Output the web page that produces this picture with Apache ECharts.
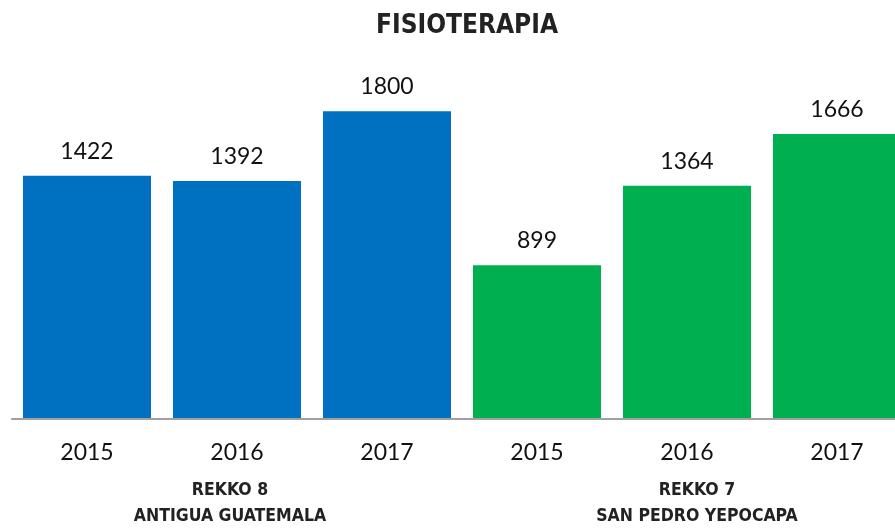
<!DOCTYPE html>
<html>
<head>
<meta charset="utf-8">
<title>Fisioterapia</title>
<script src="https://cdn.jsdelivr.net/npm/echarts@6/dist/echarts.min.js"></script>
<style>
  html, body { margin: 0; padding: 0; background: #fff; overflow: hidden; }
  /* el grafico original esta recortado a la derecha */
  #chart { width: 912px; height: 529px; }
</style>
</head>
<body>
<div id="chart"></div>
<script>
// datos
const years = ['2015', '2016', '2017', '2015', '2016', '2017']
const groups = ['REKKO 8\nANTIGUA GUATEMALA', 'REKKO 7\nSAN PEDRO YEPOCAPA']
const values = [1422, 1392, 1800, 899, 1364, 1666]
const barColors = ['#0070C0', '#0070C0', '#0070C0', '#00B050', '#00B050', '#00B050']

const titleFont = 'DejaVu Sans Condensed'

const chart = echarts.init(document.getElementById('chart'))

chart.setOption({
  animation: false,
  title: {
    text: 'FISIOTERAPIA',
    left: 462,
    textAlign: 'center',
    top: 8,
    textStyle: {
      fontFamily: titleFont,
      fontWeight: 'bold',
      fontSize: 26,
      color: '#222'
    }
  },
  grid: [
    { left: 12, right: 0, top: 77, bottom: 110 }, // barras
    { left: 12, right: 0, top: 77, bottom: 110 } // etiquetas de grupo
  ],
  xAxis: [
    {
      type: 'category',
      gridIndex: 0,
      data: years,
      axisTick: { show: false },
      axisLine: { lineStyle: { color: '#A0A0A0', width: 2 } },
      axisLabel: {
        margin: 22,
        fontFamily: 'Lato',
        fontSize: 23,
        color: '#111'
      },
      z: 5
    },
    {
      type: 'category',
      gridIndex: 1,
      data: groups,
      axisTick: { show: false },
      axisLine: { show: false },
      axisLabel: {
        margin: 65,
        fontFamily: titleFont,
        fontWeight: 'bold',
        fontSize: 17.5,
        lineHeight: 26,
        color: '#222',
        // pequeno desplazamiento horizontal de cada grupo
        formatter(value, idx) {
          const tag = idx === 0 ? 'a' : 'b'
          return value.split('\n').map(s => '{' + tag + '|' + s + '}').join('\n')
        },
        rich: {
          a: { padding: [0, 14, 0, 0] },
          b: { padding: [0, 0, 0, 20] }
        }
      }
    }
  ],
  yAxis: [
    { type: 'value', gridIndex: 0, min: 0, max: 2000, show: false },
    { type: 'value', gridIndex: 1, min: 0, max: 2000, show: false }
  ],
  series: [
    {
      type: 'bar',
      xAxisIndex: 0,
      yAxisIndex: 0,
      barWidth: 128,
      data: values.map((v, i) => ({ value: v, itemStyle: { color: barColors[i] } })),
      label: {
        show: true,
        position: 'top',
        distance: 13,
        fontFamily: 'Lato',
        fontSize: 23,
        color: '#111'
      }
    }
  ]
})
</script>
</body>
</html>
